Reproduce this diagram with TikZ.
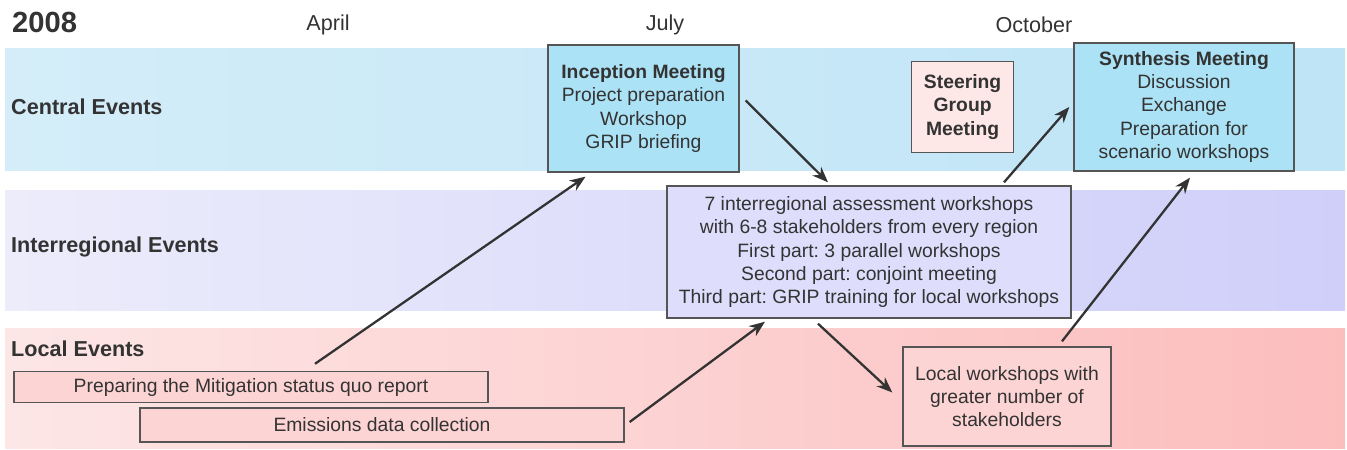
\documentclass[tikz,border=0pt]{standalone}
\usepackage{fontspec}
\setmainfont{Liberation Sans}
\usepackage{xcolor}
\usetikzlibrary{arrows.meta, positioning, calc}
\frenchspacing

\definecolor{inkgray}{HTML}{333333}
\definecolor{edgegray}{HTML}{555555}
\definecolor{centralL}{HTML}{D4EDF9}
\definecolor{centralR}{HTML}{BEE4F6}
\definecolor{meetblue}{HTML}{ACE2F5}
\definecolor{interL}{HTML}{ECECFB}
\definecolor{interR}{HTML}{CFCFFA}
\definecolor{interbox}{HTML}{DEDEFC}
\definecolor{localL}{HTML}{FDE6E6}
\definecolor{localR}{HTML}{FCBDBD}
\definecolor{localbox}{HTML}{FDD4D4}
\definecolor{steerpink}{HTML}{FDE7E7}

\begin{document}
\begin{tikzpicture}[x=0.02cm, y=-0.02cm,
    every node/.style={text=inkgray, font=\fontsize{11}{13.3}\selectfont},
    eventbox/.style={draw=edgegray, line width=0.8pt, align=center, inner sep=0pt},
    bandlabel/.style={anchor=west, font=\fontsize{12.3}{14}\selectfont\bfseries},
    month/.style={font=\fontsize{12.3}{14}\selectfont},
    arr/.style={-{Stealth[length=9pt, width=7pt]}, line width=1.3pt, draw=inkgray}]
    \useasboundingbox (0,0) rectangle (1347,450);

    % the three bands
    \shade[left color=centralL, right color=centralR] (5,48) rectangle (1345,170);
    \shade[left color=interL, right color=interR] (5,190) rectangle (1345,310);
    \shade[left color=localL, right color=localR] (5,328) rectangle (1345,448);

    % year and months
    \node (year) [anchor=west, font=\fontsize{16.6}{18}\selectfont\bfseries] at (6,22) {2008};
    \node (apr) [month] at (328,25) {April};
    \node (jul) [month] at (665,25) {July};
    \node (oct) [month] at (1034,25) {October};

    \node (central) [bandlabel] at (5,107) {Central Events};
    \node (interreg) [bandlabel] at (5,247) {Interregional Events};
    \node (local) [bandlabel] at (5,349) {Local Events};

    % events
    \node (incep) [eventbox, fill=meetblue, minimum width=3.82cm, minimum height=2.54cm] at (643.5,108.5) {\textbf{Inception Meeting}\\Project preparation\\Workshop\\GRIP briefing};
    \node (synth) [eventbox, fill=meetblue, minimum width=4.4cm, minimum height=2.56cm] at (1184,107) {\textbf{Synthesis Meeting}\\Discussion\\Exchange\\Preparation for\\scenario workshops};
    \node (steer) [eventbox, fill=steerpink, minimum width=2.04cm, minimum height=1.82cm, left=1.18cm of synth, font=\fontsize{11}{13.3}\selectfont\bfseries] {Steering\\Group\\Meeting};
    \node (inter) [eventbox, fill=interbox, minimum width=8.08cm, minimum height=2.64cm] at (869,252) {7 interregional assessment workshops\\with 6-8 stakeholders from every region\\First part: 3 parallel workshops\\Second part: conjoint meeting\\Third part: GRIP training for local workshops};
    \node (prep) [eventbox, fill=localbox, minimum width=9.48cm, minimum height=0.62cm] at (251,387) {Preparing the Mitigation status quo report};
    \node (emis) [eventbox, fill=localbox, minimum width=9.68cm, minimum height=0.68cm] at (382,425) {Emissions data collection};
    \node (locws) [eventbox, fill=localbox, minimum width=4.16cm, minimum height=1.98cm] at (1007,396.5) {Local workshops with\\greater number of\\stakeholders};

    % flow between events
    \draw [arr] ($(prep.north)+(64,-7)$) -- ($(incep.south)+(-58,4)$);
    \draw [arr] ($(incep.east)+(6,-8)$) -- ($(inter.north)+(-41,-3)$);
    \draw [arr] ($(inter.north)+(135,-3)$) -- ($(synth.west)+(-4,0)$);
    \draw [arr] ($(emis.east)+(5,-3)$) -- ($(inter.south)+(-104,3)$);
    \draw [arr] ($(inter.south)+(-51,5)$) -- ($(locws.west)+(-10,-4)$);
    \draw [arr] ($(locws.north)+(55,-5)$) -- ($(synth.south)+(6,6)$);
\end{tikzpicture}
\end{document}
